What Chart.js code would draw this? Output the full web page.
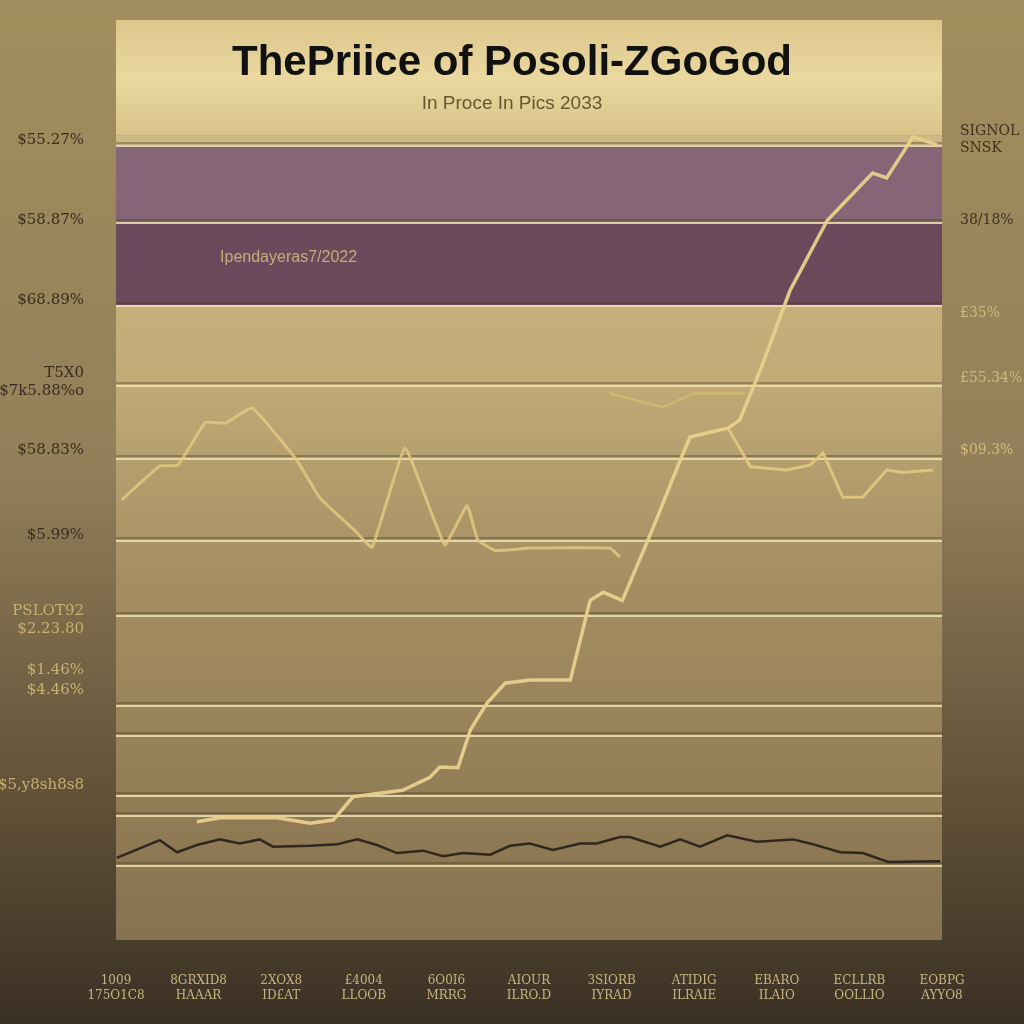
<!DOCTYPE html>
<html>
<head>
<meta charset="utf-8">
<script src="https://cdn.jsdelivr.net/npm/chart.js@4.4.1/dist/chart.umd.min.js"></script>
<style>
  html, body { margin: 0; padding: 0; background: #3a3024; }
  canvas { display: block; }
</style>
</head>
<body>
<canvas id="goldChart" width="1024" height="1024"></canvas>
<script>
// x axis: 11 period labels (index 0..10)
var xLabels = [
  ['1009', '175O1C8'], ['8GRXID8', 'HAAAR'], ['2XOX8', 'ID£AT'], ['£4004', 'LLOOB'],
  ['6O0I6', 'MRRG'], ['AIOUR', 'ILRO.D'], ['3SIORB', 'IYRAD'], ['ATIDIG', 'ILRAIE'],
  ['EBARO', 'ILAIO'], ['ECLLRB', 'OOLLIO'], ['EOBPG', 'AYYO8']
]

// left tick values / labels
var leftTickVals = [99.4, 89.4, 79.5, 69.3, 60.9, 50.3, 39.8, 33.5, 31.1, 19.3]
var leftTickText = ['$55.27%', '$58.87%', '$68.89%', ['T5X0', '$7k5.88%o'], '$58.83%', '$5.99%',
  ['PSLOT92', '$2.23.80'], '$1.46%', '$4.46%', '$5,y8sh8s8']

// right tick values / labels
var rightTickVals = [99.4, 89.4, 77.9, 69.8, 60.9]
var rightTickText = [['SIGNOL', 'SNSK'], '38/18%', '£35%', '£55.34%', '$09.3%']

// gridlines and bands
var gridVals = [98.8, 89.2, 78.9, 68.9, 59.9, 49.7, 40.4, 29.2, 25.5, 18.0, 15.5, 9.3]
var bandTop = [98.8, 89.2]
var bandBottom = [89.2, 78.9]

// main gold series (rising)
var riseX = [0.98, 1.26, 1.95, 2.35, 2.63, 2.87, 3.47, 3.80, 3.92, 4.14, 4.29, 4.49, 4.71, 5.01,
  5.50, 5.74, 5.90, 6.13, 6.49, 6.83, 6.95, 7.15, 7.41, 7.55, 7.80, 8.16, 8.61, 9.16, 9.33, 9.65, 9.94]
var riseY = [14.7, 15.2, 15.2, 14.5, 14.9, 17.8, 18.6, 20.2, 21.5, 21.4, 26.1, 29.4, 31.9, 32.3,
  32.3, 42.2, 43.2, 42.2, 50.9, 59.6, 62.5, 63.0, 63.6, 64.6, 70.8, 80.7, 89.4, 95.3, 94.7, 99.8, 98.8]

// gold wave on the left
var waveX = [0.07, 0.53, 0.75, 1.08, 1.32, 1.65, 2.19, 2.47, 2.89, 3.10, 3.50, 3.98, 4.25, 4.38,
  4.59, 5.01, 5.98, 6.10]
var waveY = [54.7, 58.9, 59.0, 64.3, 64.2, 66.1, 59.6, 54.9, 50.9, 48.8, 61.1, 49.1, 54.0, 49.7,
  48.4, 48.7, 48.7, 47.6]

// gold wave on the right
var rightX = [7.41, 7.68, 8.12, 8.40, 8.56, 8.80, 9.04, 9.33, 9.53, 9.89]
var rightY = [63.6, 58.8, 58.4, 59.0, 60.5, 55.0, 55.0, 58.4, 58.1, 58.4]

// short upper segment
var flatX = [5.98, 6.62, 6.99, 7.61]
var flatY = [67.9, 66.2, 67.9, 67.9]

// dark series near the bottom
var darkX = [0.01, 0.53, 0.74, 0.98, 1.26, 1.50, 1.74, 1.90, 2.35, 2.68, 2.92, 3.16, 3.40, 3.72,
  3.96, 4.20, 4.53, 4.77, 5.01, 5.29, 5.62, 5.82, 6.10, 6.22, 6.59, 6.83, 7.07, 7.40, 7.76, 8.20,
  8.40, 8.77, 9.04, 9.35, 9.98]
var darkY = [10.2, 12.4, 10.9, 11.8, 12.5, 12.0, 12.5, 11.6, 11.7, 11.9, 12.5, 11.8, 10.8, 11.1,
  10.4, 10.8, 10.6, 11.7, 12.0, 11.2, 12.0, 12.0, 12.8, 12.8, 11.6, 12.5, 11.6, 13.0, 12.2, 12.5,
  12.0, 10.9, 10.8, 9.7, 9.8]

var noteText = 'Ipendayeras7/2022'
var noteX = 1.26
var noteY = 84.8

function pts(xs, ys) {
  var out = []
  for (var i = 0; i < xs.length; i++) out.push({x: xs[i], y: ys[i]})
  return out
}

var backdrop = {
  id: 'backdrop',
  beforeDraw: function (chart) {
    var ctx = chart.ctx
    var a = chart.chartArea
    var ys = chart.scales.y
    ctx.save()
    var g = ctx.createLinearGradient(0, 0, 0, 1024)
    g.addColorStop(0, '#a38e5e')
    g.addColorStop(0.45, '#93805a')
    g.addColorStop(0.8, '#5e4e36')
    g.addColorStop(1, '#3a3024')
    ctx.fillStyle = g
    ctx.fillRect(0, 0, 1024, 1024)

    // title panel
    var tg = ctx.createLinearGradient(0, 20, 0, a.top)
    tg.addColorStop(0, '#dcc68c')
    tg.addColorStop(0.5, '#ead89e')
    tg.addColorStop(1, '#d9c48a')
    ctx.fillStyle = tg
    ctx.fillRect(a.left, 20, a.right - a.left, a.top - 20)

    // plot area
    var pg = ctx.createLinearGradient(0, a.top, 0, a.bottom)
    pg.addColorStop(0, '#cdb985')
    pg.addColorStop(0.3, '#c2ab77')
    pg.addColorStop(0.55, '#a58e62')
    pg.addColorStop(1, '#877250')
    ctx.fillStyle = pg
    ctx.fillRect(a.left, a.top, a.right - a.left, a.bottom - a.top)

    // purple bands
    var colors = ['#866676', '#6b4b5b']
    for (var i = 0; i < bandTop.length; i++) {
      var y1 = ys.getPixelForValue(bandTop[i])
      var y2 = ys.getPixelForValue(bandBottom[i])
      ctx.fillStyle = colors[i]
      ctx.fillRect(a.left, y1, a.right - a.left, y2 - y1)
    }

    // grid lines
    for (var j = 0; j < gridVals.length; j++) {
      var py = Math.round(ys.getPixelForValue(gridVals[j]))
      ctx.fillStyle = 'rgba(70,55,30,0.35)'
      ctx.fillRect(a.left, py - 3, a.right - a.left, 2)
      ctx.fillStyle = 'rgba(240,226,180,0.85)'
      ctx.fillRect(a.left, py, a.right - a.left, 2)
    }

    // annotation inside the purple band
    ctx.font = '16px "Liberation Sans", Arial, sans-serif'
    ctx.fillStyle = '#c9ab7c'
    ctx.textBaseline = 'middle'
    ctx.fillText(noteText, chart.scales.x.getPixelForValue(noteX), ys.getPixelForValue(noteY))
    ctx.restore()
  }
}

var ctxL = document.getElementById('goldChart').getContext('2d')
var goldChart = new Chart(ctxL, {
  type: 'line',
  data: {
    datasets: [{
      label: 'Gold',
      data: pts(riseX, riseY),
      borderColor: 'rgba(232,208,140,0.95)',
      borderWidth: 3.5,
      pointRadius: 0,
      tension: 0
    }, {
      label: 'Gold (early)',
      data: pts(waveX, waveY),
      borderColor: 'rgba(226,200,128,0.85)',
      borderWidth: 3,
      pointRadius: 0,
      tension: 0.1
    }, {
      label: 'Gold (late)',
      data: pts(rightX, rightY),
      borderColor: 'rgba(226,200,128,0.9)',
      borderWidth: 3,
      pointRadius: 0,
      tension: 0
    }, {
      label: 'Gold (flat)',
      data: pts(flatX, flatY),
      borderColor: 'rgba(214,186,112,0.85)',
      borderWidth: 2.5,
      pointRadius: 0,
      tension: 0
    }, {
      label: 'Possibly',
      data: pts(darkX, darkY),
      borderColor: '#2f2720',
      borderWidth: 2.5,
      pointRadius: 0,
      tension: 0
    }]
  },
  options: {
    responsive: false,
    animation: false,
    layout: { padding: 0 },
    plugins: {
      legend: { display: false },
      tooltip: { enabled: false },
      title: {
        display: true,
        text: 'ThePriice of Posoli-ZGoGod',
        color: '#111111',
        font: { family: '"Liberation Sans", Arial, sans-serif', size: 42, weight: 'bold' },
        padding: { top: 38, bottom: 4 }
      },
      subtitle: {
        display: true,
        text: 'In Proce In Pics 2033',
        color: '#6a5530',
        font: { family: '"Liberation Sans", Arial, sans-serif', size: 19 },
        padding: { top: 0, bottom: 20 }
      }
    },
    scales: {
      x: {
        type: 'linear',
        min: 0,
        max: 10,
        grid: { display: false },
        border: { display: false },
        afterFit: function (scale) { scale.height = 84 },
        ticks: {
          stepSize: 1,
          padding: 26,
          maxRotation: 0,
          autoSkip: false,
          color: '#c8b480',
          font: { family: '"DejaVu Serif", serif', size: 12 },
          callback: function (v) { return xLabels[v] }
        }
      },
      y: {
        position: 'left',
        min: 0,
        max: 100,
        grid: { display: false },
        border: { display: false },
        afterFit: function (scale) { scale.width = 116 },
        afterBuildTicks: function (scale) {
          scale.ticks = leftTickVals.map(function (v) { return {value: v} })
        },
        ticks: {
          padding: 24,
          autoSkip: false,
          font: { family: '"DejaVu Serif", serif', size: 15 },
          color: function (c) { return c.index < 6 ? '#3a2c1c' : '#c9b072' },
          callback: function (v, i) { return leftTickText[i] }
        }
      },
      y2: {
        position: 'right',
        min: 0,
        max: 100,
        grid: { display: false },
        border: { display: false },
        afterFit: function (scale) { scale.width = 82 },
        afterBuildTicks: function (scale) {
          scale.ticks = rightTickVals.map(function (v) { return {value: v} })
        },
        ticks: {
          padding: 10,
          autoSkip: false,
          font: { family: '"DejaVu Serif", serif', size: 14 },
          color: function (c) { return c.index < 2 ? '#3e3020' : '#d2b878' },
          callback: function (v, i) { return rightTickText[i] }
        }
      }
    }
  },
  plugins: [backdrop]
})
</script>
</body>
</html>
